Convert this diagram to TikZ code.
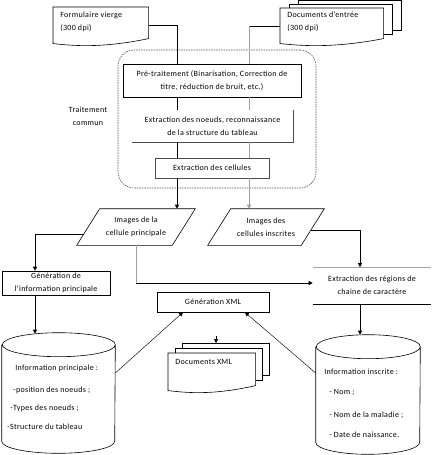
\documentclass[tikz,border=0pt]{standalone}
\usepackage{fontspec}
\setmainfont{Carlito}[LetterSpace=4]
\usetikzlibrary{arrows.meta,calc}
\newcommand\docpath[1]{(#1.north west) -- (#1.north east) -- (#1.south east) .. controls ($(#1.south east)!0.5!(#1.south west)+(0,-10pt)$) and ($(#1.south east)!0.8!(#1.south west)+(0,-7pt)$) .. ($(#1.south west)+(0,-5pt)$) -- cycle}
\begin{document}
\begin{tikzpicture}[x=1pt,y=-1pt,
  font=\fontsize{8}{13}\selectfont,
  line width=0.6pt,
  box/.style={draw, inner sep=0pt, align=center},
  plain/.style={inner sep=0pt, align=center},
  txt/.style={inner sep=0pt, anchor=west, align=left},
  arr/.style={-{Triangle[length=4pt,width=4pt]}},
  grayln/.style={draw=gray!75},
  thinln/.style={line width=0.45pt}]
\useasboundingbox (0,0) rectangle (432,455);

% helper coordinates
\coordinate (xL) at (177,0);
\coordinate (xR) at (249,0);
\coordinate (xG) at (35,0);
\coordinate (xE) at (360,0);
\coordinate (yE) at (0,283);

% common treatment frame
\node[draw=gray!65!black, dash pattern=on 1.5pt off 1pt, rounded corners=16pt, minimum width=198pt, minimum height=138pt, inner sep=0pt] (common) at (217,119) {};
\node[plain] (commonlbl) at (88,116) {Traitement\\commun};

% Formulaire vierge
\node[plain, minimum width=95pt, minimum height=31pt, anchor=north west] (formA) at (53,7) {};
\draw[fill=white] \docpath{formA};
\node[txt] (formAt) at (60,21.5) {Formulaire vierge\\(300 dpi)};

% Documents d'entree (stack)
\node[plain, minimum width=103pt, minimum height=30pt, anchor=north west] (docIn) at (280,8) {};
\draw[fill=white] ([xshift=18pt,yshift=8pt]docIn.north west) rectangle ([xshift=18pt,yshift=8pt]docIn.south east);
\draw[fill=white] ([xshift=9pt,yshift=4pt]docIn.north west) rectangle ([xshift=9pt,yshift=4pt]docIn.south east);
\draw[fill=white] \docpath{docIn};
\node[txt] (docInt) at (287,22) {Documents d'entrée\\(300 dpi)};

% common processing boxes
\node[box, line width=0.9pt, minimum width=178pt, minimum height=33pt] (pre) at (212,80.5) {Pré-traitement (Binarisation, Correction de\\titre, réduction de bruit, etc.)};
\node[plain, minimum width=161pt, minimum height=32pt] (noeuds) at (212.5,126) {Extraction des noeuds, reconnaissance\\de la structure du tableau};
\draw[draw=gray!60!black] (noeuds.north east) -- (noeuds.south east) -- (noeuds.south west);
\node[box, draw=gray!60!black, minimum width=114pt, minimum height=20pt] (cells) at (212,168) {Extraction des cellules};

% parallelograms
\node[plain, minimum width=95pt, minimum height=36pt] (paraL) at (136,227) {Images de la\\cellule principale};
\draw ([xshift=11.5pt]paraL.north west) -- ([xshift=11.5pt]paraL.north east) -- ([xshift=-11.5pt]paraL.south east) -- ([xshift=-11.5pt]paraL.south west) -- cycle;
\node[plain, minimum width=93pt, minimum height=36pt] (paraR) at (266,227) {Images des\\cellules inscrites};
\draw ([xshift=11.5pt]paraR.north west) -- ([xshift=11.5pt]paraR.north east) -- ([xshift=-11.5pt]paraR.south east) -- ([xshift=-11.5pt]paraR.south west) -- cycle;

% generation of main info
\node[box, minimum width=108pt, minimum height=24pt] (genInfo) at (56,283) {Génération de\\l'information principale};

% extraction of text regions
\node[plain, minimum width=118pt, minimum height=36pt] (extr) at (372,285.5) {Extraction des régions de\\chaine de caractère};
\draw[grayln] (extr.north west) -- (extr.north east);
\draw (extr.south west) -- (extr.south east);

% XML generation
\node[box, minimum width=112pt, minimum height=20pt] (genXML) at (213,302) {Génération XML};

% XML documents
\node[plain, minimum width=87pt, minimum height=32pt, anchor=north west] (docXML) at (168,353) {};
\draw[fill=white] ([xshift=14pt,yshift=10pt]docXML.north west) rectangle ([xshift=14pt,yshift=10pt]docXML.south east);
\draw[fill=white] ([xshift=7pt,yshift=5pt]docXML.north west) rectangle ([xshift=7pt,yshift=5pt]docXML.south east);
\draw[fill=white] \docpath{docXML};
\node[txt] (docXMLt) at (175,362) {Documents XML};
\coordinate (xmlIn) at (216,343);
\coordinate (xmlStub) at (216,336);

% cylinders
\node[plain, minimum width=113pt, minimum height=96pt] (cylL) at (58.5,393) {};
\draw (cylL.north west) -- (cylL.south west) arc[start angle=180,end angle=360,x radius=56.5pt,y radius=12pt] -- (cylL.north east) arc[start angle=0,end angle=360,x radius=56.5pt,y radius=12pt];
\coordinate (cylLtop) at ([yshift=11pt]cylL.north);
\node[txt] (cl1) at (15,368) {Information principale :};
\node[txt] (cl2) at (13,390) {-position des noeuds ;};
\node[txt] (cl3) at (10,408.5) {-Types des noeuds ;};
\node[txt] (cl4) at (7,427) {-Structure du tableau};

\node[plain, minimum width=104pt, minimum height=95pt] (cylR) at (368,394.5) {};
\draw (cylR.north west) -- (cylR.south west) arc[start angle=180,end angle=360,x radius=52pt,y radius=12pt] -- (cylR.north east) arc[start angle=0,end angle=360,x radius=52pt,y radius=12pt];
\coordinate (cylRtop) at ([yshift=12pt]cylR.north);
\node[txt] (cr1) at (324,372) {Information inscrite :};
\node[txt] (cr2) at (329,392) {- Nom ;};
\node[txt] (cr3) at (329,415.5) {- Nom de la maladie ;};
\node[txt] (cr4) at (329,435) {- Date de naissance.};

% connectors: inputs
\draw ([yshift=-2.5pt]formA.east) -| (xL |- pre.north);
\draw ([yshift=-3pt]docIn.west) -- ([yshift=-3pt]docIn.west -| xR);
\draw[grayln] ([yshift=-3pt]docIn.west -| xR) -- (xR |- pre.north);

% pipeline left (black)
\draw (xL |- pre.south) -- (xL |- noeuds.north);
\draw (xL |- noeuds.south) -- (xL |- cells.north);
\draw[arr] (xL |- cells.south) -- (xL |- paraL.north);
% pipeline right (gray)
\draw[grayln] (xR |- pre.south) -- (xR |- noeuds.north);
\draw[grayln] (xR |- noeuds.south) -- (xR |- cells.north);
\draw[grayln, arr] (xR |- cells.south) -- (xR |- paraR.north);

% from parallelograms
\draw[arr] ([xshift=-4.5pt,yshift=-7pt]paraL.west) -| (xG |- genInfo.north);
\draw[grayln] (paraL.south) -- (paraL.south |- yE);
\draw[arr] (paraL.south |- yE) -- (extr.west |- yE);
\draw[arr] ([xshift=-2pt,yshift=-3pt]paraR.east) -| (xE |- extr.north);

% to databases
\draw[arr] (xG |- genInfo.south) -- (xG |- cylLtop);
\draw[arr] (xE |- extr.south) -- (xE |- cylRtop);

% to XML generation
\draw[thinln, arr] ([yshift=20pt]cylL.east) -- ([xshift=-30pt]genXML.south);
\draw[thinln, arr] ([yshift=21.5pt]cylR.west) -- ([xshift=32pt]genXML.south);
\draw[arr] (xmlStub) -- (xmlIn);
\end{tikzpicture}
\end{document}
